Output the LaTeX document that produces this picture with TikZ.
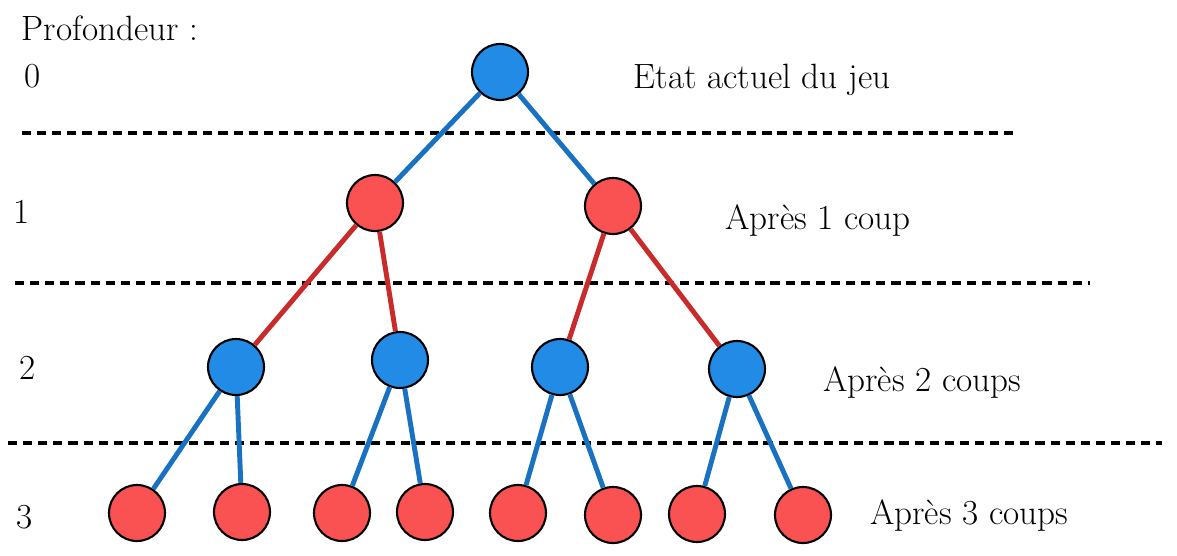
\documentclass[tikz,border=0pt]{standalone}
\usepackage{xcolor}
\usepackage{tikz}

\definecolor{noeudbleu}{HTML}{228BE6}
\definecolor{noeudrouge}{HTML}{FA5252}
\definecolor{arcbleu}{HTML}{1971C2}
\definecolor{arcrouge}{HTML}{C92A2A}

\begin{document}
\begin{tikzpicture}[x=0.02cm, y=-0.02cm, every node/.style={font=\fontsize{20}{22}\selectfont},
  bleu/.style={circle, draw=black, line width=1.2pt, fill=noeudbleu, minimum size=1.12cm, inner sep=0pt},
  rouge/.style={circle, draw=black, line width=1.2pt, fill=noeudrouge, minimum size=1.12cm, inner sep=0pt},
  arcb/.style={draw=arcbleu, line width=2.8pt},
  arcr/.style={draw=arcrouge, line width=2.8pt},
  niveau/.style={line width=2.2pt, dash pattern=on 5.2pt off 3.4pt}]
  \useasboundingbox (0,0) rectangle (1177,555);
  % separations
  \draw[niveau] (22,133) -- (1015,133);
  \draw[niveau] (15,283) -- (1090,283);
  \draw[niveau] (8,443) -- (1162,443);
  % profondeurs
  \node(titre) at (110,28) {Profondeur :};
  \node(p0) at (33,76) {0};
  \node(p1) at (22,212) {1};
  \node(p2) at (28,368) {2};
  \node(p3) at (25,517) {3};
  \node(e0) at (762,80) {Etat actuel du jeu};
  \node(e1) at (818,220) {Après 1 coup};
  \node(e2) at (922,382) {Après 2 coups};
  \node(e3) at (969,515) {Après 3 coups};
  % noeuds
  \node[bleu](root) at (500,72) {};
  \node[rouge](a) at (375,203) {};
  \node[rouge](b) at (613,206) {};
  \node[bleu](aa) at (236,367) {};
  \node[bleu](ab) at (400,360) {};
  \node[bleu](ba) at (560,367) {};
  \node[bleu](bb) at (737,369) {};
  \node[rouge](aaa) at (137,513) {};
  \node[rouge](aab) at (242,512) {};
  \node[rouge](aba) at (342,513) {};
  \node[rouge](abb) at (425,512) {};
  \node[rouge](baa) at (518,513) {};
  \node[rouge](bab) at (613,515) {};
  \node[rouge](bba) at (697,514) {};
  \node[rouge](bbb) at (803,515) {};
  % arcs
  \draw[arcb] (root) -- (a);
  \draw[arcb] (root) -- (b);
  \draw[arcr] (a) -- (aa);
  \draw[arcr] (a) -- (ab);
  \draw[arcr] (b) -- (ba);
  \draw[arcr] (b) -- (bb);
  \draw[arcb] (aa) -- (aaa);
  \draw[arcb] (aa) -- (aab);
  \draw[arcb] (ab) -- (aba);
  \draw[arcb] (ab) -- (abb);
  \draw[arcb] (ba) -- (baa);
  \draw[arcb] (ba) -- (bab);
  \draw[arcb] (bb) -- (bba);
  \draw[arcb] (bb) -- (bbb);
\end{tikzpicture}
\end{document}
